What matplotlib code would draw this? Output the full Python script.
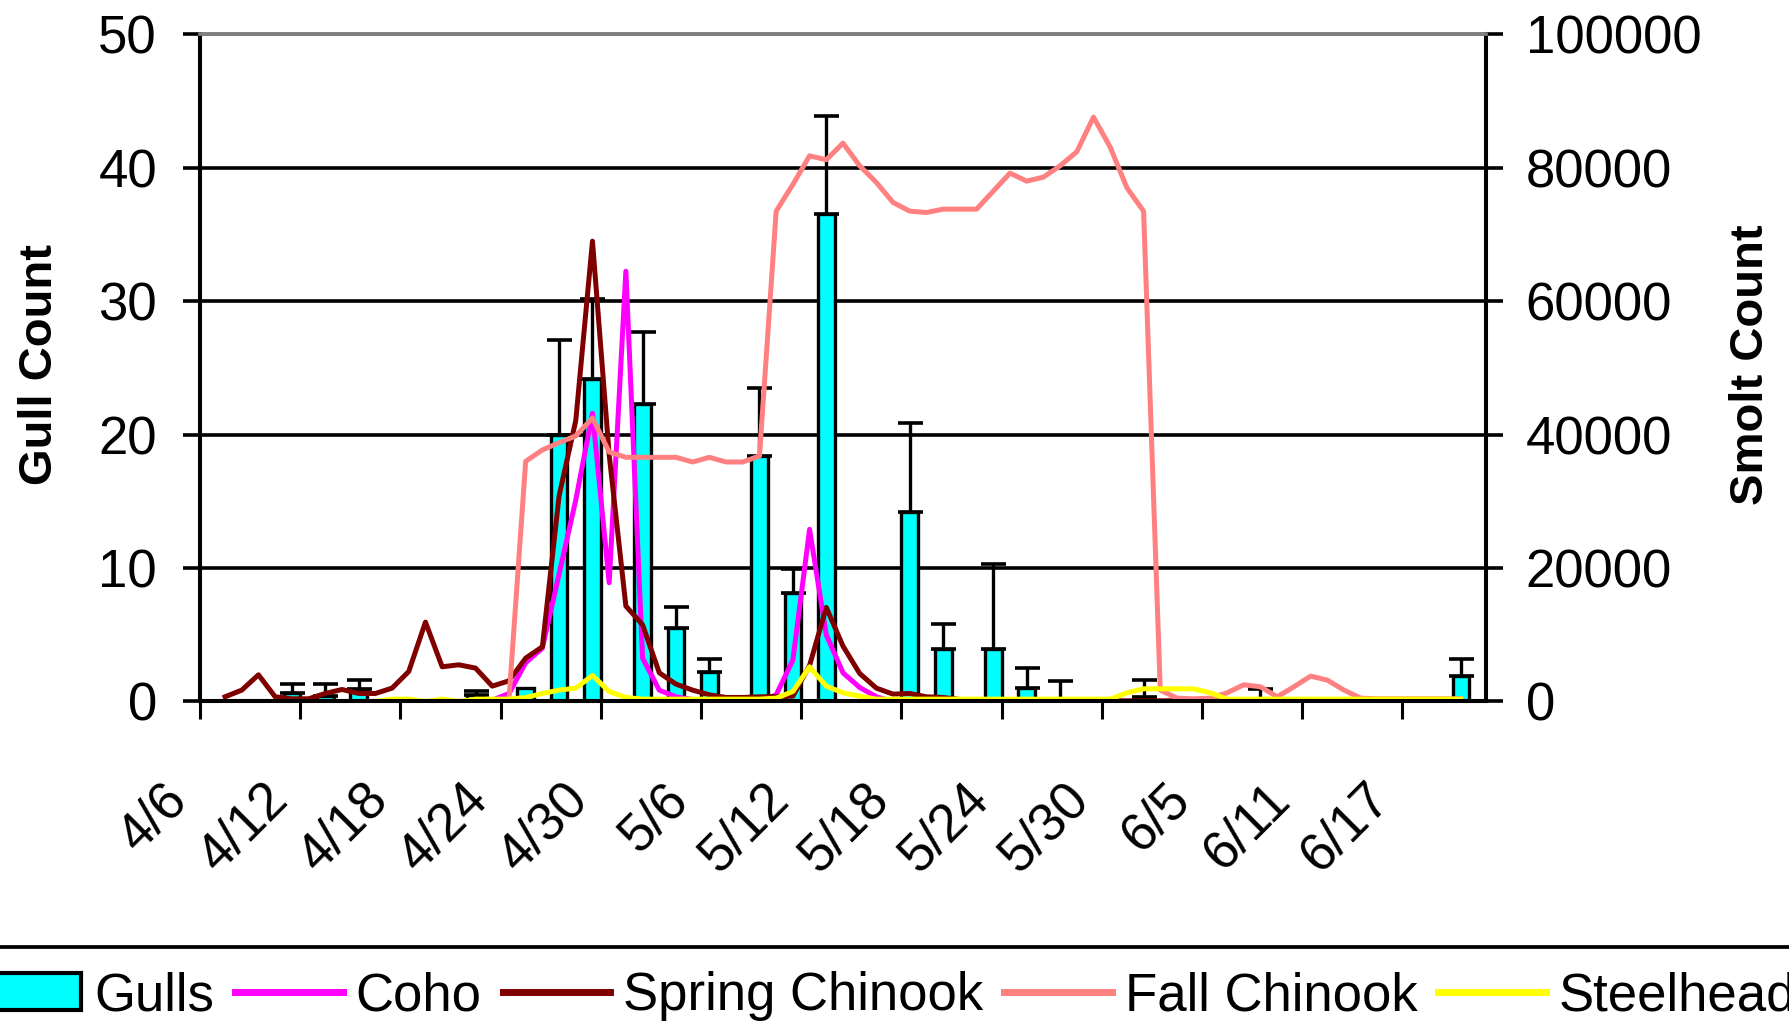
import numpy as np
import matplotlib
matplotlib.use("Agg")
import matplotlib.pyplot as plt
from matplotlib.patches import Patch
from matplotlib.lines import Line2D
from matplotlib.transforms import ScaledTranslation

plt.rcParams["font.family"] = ["Liberation Sans", "DejaVu Sans"]
fs = 38

nan = np.nan

# one category per day, 4/6 (index 0) .. 6/21 (index 76)
n_days = 77
tick_labels = ["4/6", "4/12", "4/18", "4/24", "4/30", "5/6", "5/12",
               "5/18", "5/24", "5/30", "6/5", "6/11", "6/17"]

# gull counts (left axis): day index, mean count, upper error
gull_day = [5, 7, 9, 16, 19, 21, 23, 26, 28, 30, 33, 35, 37, 42, 44, 47, 49, 51, 56, 58, 63, 68, 75]
gull_count = [0.6, 0.4, 0.9, 0.5, 1.0, 20.0, 24.2, 22.3, 5.5, 2.2, 18.4, 8.1, 36.5,
              14.2, 3.9, 3.9, 1.0, 0.1, 0.35, 0.1, 0.05, 0.1, 1.9]
gull_err = [0.7, 0.9, 0.7, 0.3, 0.0, 7.1, 6.0, 5.4, 1.6, 1.0, 5.1, 1.8, 7.4,
            6.7, 1.9, 6.4, 1.5, 1.45, 1.25, 0.0, 0.9, 0.0, 1.3]

# smolt counts (right axis), one value per day
coho = [nan] + [0] * 16 + [
    200, 1200, 5800, 8000, 19100, 30200, 43200, 17800, 64500, 6500,
    1700, 700, 300, 0, 0, 0, 0, 1000, 6200, 25800, 10000, 4300, 2100, 700,
] + [0] * 35 + [nan]

spring_chinook = [nan,
    700, 1700, 4000, 700, 400, 400, 1200, 1800, 1200, 1200,
    2000, 4500, 11900, 5200, 5500, 5000, 2300, 3100, 6500, 8200,
    30800, 42100, 69000, 37000, 14300, 11500, 4300, 2600, 1700, 1000,
    600, 600, 700, 750, 800, 5400, 14100, 8300, 4200, 2000,
    1100, 1200, 700, 600, 300,
] + [100] * 30 + [nan]

fall_chinook = [nan] + [0] * 17 + [
    300, 36000, 37700, 38800, 39800, 42500, 37400, 36600, 36600, 36600,
    36600, 35900, 36600, 35900, 35900, 36800, 73500, 77500, 81800, 81200,
    83700, 80300, 77800, 74800, 73500, 73300, 73800, 73800, 73800, 76500,
    79200, 78000, 78600, 80300, 82400, 87600, 83100, 77000, 73500, 1700,
    500, 400, 500, 1300, 2500, 2200, 700, 2200, 3800, 3200,
    1700, 500,
] + [400] * 6 + [nan]

steelhead = [nan] + [0] * 10 + [
    350, 350, 0, 350, 0, 350, 350, 350, 600, 1200,
    1700, 2000, 3900, 1500, 600,
] + [350] * 8 + [500, 1500, 5200, 2300, 1300, 800] + [350] * 15 + [
    1300, 1900, 1900, 1900, 1900, 1300,
] + [350] * 15 + [nan]

days = np.arange(n_days)

fig = plt.figure(figsize=(17.89, 10.26), dpi=100)
ax1 = fig.add_axes([0.1118, 0.3163, 0.7188, 0.6502])
ax2 = ax1.twinx()

# gull bars with upper error bars
ax1.set_axisbelow(True)
ax1.bar(gull_day, gull_count, width=1.0, color="#00FFFF", edgecolor="black", linewidth=2.4, zorder=2)
err_day = [d for d, e in zip(gull_day, gull_err) if e > 0]
err_val = [v for v, e in zip(gull_count, gull_err) if e > 0]
err_up = [e for e in gull_err if e > 0]
ax1.errorbar(err_day, err_val, yerr=[np.zeros(len(err_up)), err_up], fmt="none",
             ecolor="black", elinewidth=2.4, capsize=9, capthick=2.6, zorder=3)

# smolt lines, later series drawn on top
ax2.plot(days, coho, color="#FF00FF", lw=3.6, label="Coho")
ax2.plot(days, spring_chinook, color="#800000", lw=3.6, label="Spring Chinook")
ax2.plot(days, fall_chinook, color="#FF8080", lw=3.6, label="Fall Chinook")
ax2.plot(days, steelhead, color="#FFFF00", lw=3.6, label="Steelhead")

ax1.set_xlim(-0.5, n_days - 0.5)
ax1.set_ylim(0, 50)
ax2.set_ylim(0, 100000)
ax1.set_yticks(range(0, 51, 10))
ax2.set_yticks(range(0, 100001, 20000))
ax1.grid(axis="y", color="black", lw=2.6)

ax1.set_xticks([6 * k - 0.5 for k in range(len(tick_labels))])
ax1.set_xticklabels(tick_labels, rotation=45, ha="right", va="top", rotation_mode="anchor")

ax1.tick_params(axis="x", length=13, width=2.2, pad=39, labelsize=fs, direction="out")
ax1.tick_params(axis="y", length=12, width=2.6, pad=19, labelsize=fs, direction="out")
ax2.tick_params(axis="y", length=12, width=2.6, pad=16.5, labelsize=fs, direction="out")

# date labels sit a little left of their tick (tick_params resets transforms, so do this after)
for t in ax1.xaxis.get_major_ticks():
    t.label1.set_transform(t.label1.get_transform() + ScaledTranslation(-0.38, 0, fig.dpi_scale_trans))

for ax in (ax1, ax2):
    for side in ("left", "right", "bottom"):
        ax.spines[side].set_color("black")
        ax.spines[side].set_linewidth(2.9)
    ax.spines["top"].set_color("#808080")
    ax.spines["top"].set_linewidth(2.6)

ax1.set_ylabel("Gull Count", fontsize=34, fontweight="bold", va="center")
ax1.yaxis.set_label_coords(-0.1245, 0.505)
ax2.set_ylabel("Smolt Count", fontsize=34, fontweight="bold", va="center")
ax2.yaxis.set_label_coords(1.206, 0.505)

# legend: only the top edge of its box shows in the original, the rest runs off the page
handles = [Patch(facecolor="#00FFFF", edgecolor="black", linewidth=3.0),
           Line2D([], [], color="#FF00FF", lw=5),
           Line2D([], [], color="#800000", lw=5),
           Line2D([], [], color="#FF8080", lw=5),
           Line2D([], [], color="#FFFF00", lw=5)]
labels = ["Gulls", "Coho", "Spring Chinook", "Fall Chinook", "Steelhead"]
fig.legend(handles, labels, loc="upper left", bbox_to_anchor=(-0.0145, 0.0535),
           ncol=5, fontsize=fs, frameon=False, handlelength=2.03, handletextpad=0.25,
           columnspacing=0.4, borderpad=0, borderaxespad=0)
fig.add_artist(Line2D([0, 1], [0.077, 0.077], color="black", lw=2.7, transform=fig.transFigure))

fig.savefig("out.png", dpi=100)
